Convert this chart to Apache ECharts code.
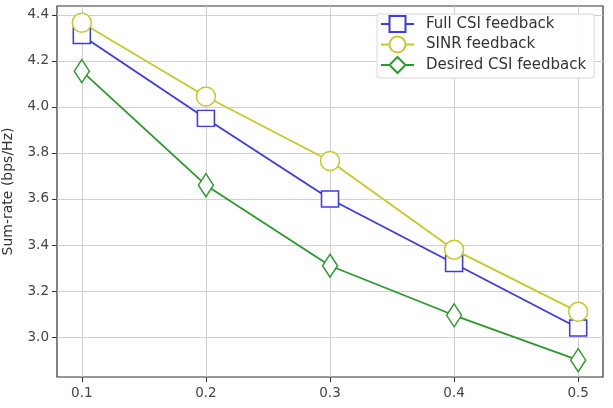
<!DOCTYPE html>
<html lang="en">
<head>
    <meta charset="UTF-8">
    <title>Sum-rate vs feedback</title>
    <style>
        html, body { margin: 0; padding: 0; background: #fff; }
        #main { width: 613px; height: 408px; }
    </style>
</head>
<body>
<div id="main"></div>
<script src="https://cdn.jsdelivr.net/npm/echarts@6/dist/echarts.min.js"></script>
<script type="text/javascript">
    // data
    var xVals = [0.1, 0.2, 0.3, 0.4, 0.5];
    var fullCsi = [4.31, 3.95, 3.60, 3.32, 3.04];
    var sinrFb = [4.365, 4.045, 3.765, 3.38, 3.11];
    var desiredCsi = [4.155, 3.66, 3.31, 3.095, 2.90];
    var yTicks = [3.0, 3.2, 3.4, 3.6, 3.8, 4.0, 4.2, 4.4];

    var pairs = function (ys) {
        var res = [];
        for (var i = 0; i < xVals.length; i++) {
            res.push([xVals[i], ys[i]]);
        }
        return res;
    };

    var font = 'DejaVu Sans';
    var chart = echarts.init(document.getElementById('main'));

    var mkSeries = function (name, ys, color, symbol, size) {
        return {
            name: name,
            type: 'line',
            data: pairs(ys),
            symbol: symbol,
            symbolSize: size,
            showAllSymbol: true,
            lineStyle: {color: color, width: 1.8},
            itemStyle: {color: '#fff', borderColor: color, borderWidth: 1.5},
            emphasis: {disabled: true},
            animation: false
        };
    };

    var option = {
        backgroundColor: '#fff',
        animation: false,
        grid: {left: 57, right: 10, top: 6, bottom: 31, outerBoundsMode: 'none', containLabel: false,
            show: true, borderColor: '#333', borderWidth: 1.2},
        legend: {
            left: 377,
            top: 14,
            orient: 'vertical',
            itemWidth: 33,
            itemHeight: 20,
            itemGap: 2.5,
            padding: [1, 8, 4, 3],
            borderColor: '#d8d8d8',
            borderWidth: 1,
            borderRadius: 3,
            backgroundColor: 'rgba(255,255,255,0.9)',
            textStyle: {fontFamily: font, fontSize: 15, color: '#333', padding: [0, 0, 0, 7]},
            data: ['Full CSI feedback', 'SINR feedback', 'Desired CSI feedback']
        },
        xAxis: {
            type: 'value',
            min: 0.08,
            max: 0.52,
            axisLine: {show: false},
            axisTick: {show: true, customValues: xVals, length: 5, lineStyle: {color: '#333'}},
            axisLabel: {customValues: xVals, fontFamily: font, fontSize: 13.5, color: '#444', margin: 9,
                formatter: function (v) { return v.toFixed(1); }},
            splitLine: {show: true, lineStyle: {color: '#d0d0d0', width: 1}}
        },
        yAxis: {
            type: 'value',
            min: 2.827,
            max: 4.438,
            name: 'Sum-rate (bps/Hz)',
            nameLocation: 'middle',
            nameGap: 42,
            nameTextStyle: {fontFamily: font, fontSize: 14, color: '#333'},
            axisLine: {show: false},
            axisTick: {show: true, customValues: yTicks, length: 5, lineStyle: {color: '#333'}},
            axisLabel: {customValues: yTicks, fontFamily: font, fontSize: 13.5, color: '#444', margin: 8,
                formatter: function (v) { return v.toFixed(1); }},
            splitLine: {show: true, lineStyle: {color: '#d0d0d0', width: 1}}
        },
        series: [
            mkSeries('Full CSI feedback', fullCsi, '#3a3af0', 'rect', [17, 16]),
            mkSeries('SINR feedback', sinrFb, '#c8c828', 'circle', 19),
            mkSeries('Desired CSI feedback', desiredCsi, '#2a9a2a', 'diamond', [15, 23])
        ]
    };
    chart.setOption(option);
</script>
</body>
</html>
